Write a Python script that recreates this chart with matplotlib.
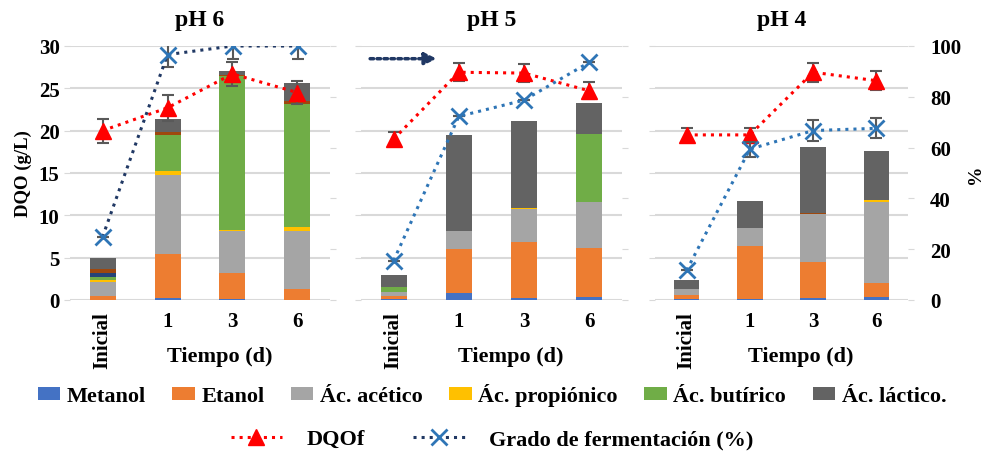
import matplotlib
matplotlib.use('Agg')
import matplotlib.pyplot as plt
import numpy as np

plt.rcParams['font.family'] = ['Liberation Serif', 'DejaVu Serif']
plt.rcParams['font.weight'] = 'bold'

# categories and titles
tiempos = ['Inicial', '1', '3', '6']
titulos = ['pH 6', 'pH 5', 'pH 4']

# stacked DQO components (g/L), one list per panel (pH 6, pH 5, pH 4)
metanol = [[0.05, 0.2, 0.1, 0.05], [0.1, 0.8, 0.2, 0.35], [0.1, 0.15, 0.25, 0.3]]
etanol = [[0.4, 5.2, 3.1, 1.25], [0.4, 5.2, 6.6, 5.8], [0.5, 6.2, 4.2, 1.65]]
acetico = [[1.65, 9.4, 5.0, 6.9], [0.5, 2.1, 4.0, 5.45], [0.7, 2.1, 5.75, 9.65]]
propionico = [[0.3, 0.4, 0.1, 0.4], [0.0, 0.0, 0.1, 0.0], [0.0, 0.0, 0.0, 0.2]]
butirico = [[0.3, 4.3, 18.2, 14.6], [0.5, 0.0, 0.0, 8.0], [0.0, 0.0, 0.0, 0.0]]
otro_azul = [[0.5, 0.0, 0.0, 0.0], [0.0, 0.0, 0.0, 0.0], [0.0, 0.0, 0.0, 0.0]]
otro_cafe = [[0.45, 0.35, 0.1, 0.35], [0.0, 0.0, 0.0, 0.0], [0.0, 0.0, 0.1, 0.0]]
lactico = [[1.3, 1.55, 0.4, 2.05], [1.4, 11.4, 10.2, 3.7], [1.1, 3.2, 7.8, 5.8]]

# DQOf (g/L) with error
dqof = [[20.0, 22.7, 26.7, 24.5], [19.0, 26.9, 26.8, 24.7], [19.5, 19.5, 26.9, 25.9]]
dqof_err = [[1.4, 1.5, 1.4, 1.4], [0.8, 1.05, 1.1, 1.0], [0.8, 0.8, 1.1, 1.1]]

# grado de fermentacion (%) with error
grado = [[24.8, 96.6, 100, 100], [15.5, 72.3, 78.7, 93.6], [11.7, 59.4, 66.7, 67.6]]
grado_err = [[0, 5, 5, 5], [0, 0, 0, 0], [0, 3, 4, 4]]

series = [('Metanol', metanol, '#4472C4'),
          ('Etanol', etanol, '#ED7D31'),
          ('Ác. acético', acetico, '#A5A5A5'),
          ('Ác. propiónico', propionico, '#FFC000'),
          ('Ác. butírico', butirico, '#70AD47'),
          (None, otro_azul, '#264478'),
          (None, otro_cafe, '#9E480E'),
          ('Ác. láctico.', lactico, '#636363')]

linea_grado = ['#203864', '#2E75B6', '#2E75B6']
grid_c = '#D9D9D9'
err_c = '#595959'

fig = plt.figure(figsize=(9.84, 4.52), dpi=100)
posiciones = [(70, 260), (361, 261), (655, 253)]
x = np.arange(len(tiempos))

bar_handles = []
line_handles = []
for p in range(3):
    left, w = posiciones[p]
    ax = fig.add_axes([left / 984, 1 - 301 / 452, w / 984, 254 / 452])
    ax2 = ax.twinx()
    ax.set_zorder(1)
    ax.patch.set_visible(False)
    ax2.set_zorder(2)

    bottom = np.zeros(len(tiempos))
    for nombre, datos, color in series:
        vals = np.array(datos[p])
        b = ax.bar(x, vals, 0.4, bottom=bottom, color=color, zorder=2,
                   label=nombre if nombre else '_nolegend_')
        bottom += vals
        if p == 0 and nombre:
            bar_handles.append(b)

    ax.errorbar(x, dqof[p], yerr=dqof_err[p], fmt='none', ecolor=err_c,
                elinewidth=1.5, capsize=4, capthick=1.5, zorder=4)
    ln1, = ax.plot(x, dqof[p], ':', color='red', lw=2.2, marker='^',
                   markersize=11, zorder=5, label='DQOf')

    ax2.errorbar(x, grado[p], yerr=grado_err[p], fmt='none', ecolor=err_c,
                 elinewidth=1.5, capsize=4, capthick=1.5)
    ln2, = ax2.plot(x, grado[p], ':', color=linea_grado[p], lw=2.2, marker='x',
                    markersize=11, markeredgewidth=2, markeredgecolor='#2E75B6',
                    label='Grado de fermentación (%)')
    if p == 0:
        line_handles = [ln1, ln2]

    ax.set_xlim(-0.5, 3.5)
    ax.set_ylim(0, 30)
    ax2.set_ylim(0, 100)
    ax.set_yticks(range(0, 31, 5))
    ax2.set_yticks(range(0, 101, 20))
    ax.grid(axis='y', color=grid_c, lw=1.5, zorder=0)
    ax.set_axisbelow(True)
    for a in (ax, ax2):
        for s in a.spines.values():
            s.set_visible(False)
    ax.set_xticks(x)
    ax.set_xticklabels(tiempos, fontsize=15)
    ax.get_xticklabels()[0].set_rotation(90)
    ax.tick_params(axis='x', length=0, pad=8)
    ax.tick_params(axis='y', length=4, color=grid_c, labelsize=15)
    ax2.tick_params(axis='y', length=4, color=grid_c, labelsize=15, pad=12)
    if p > 0:
        ax.tick_params(axis='y', labelleft=False)
    if p < 2:
        ax2.tick_params(axis='y', labelright=False)
    ax.set_title(titulos[p], fontsize=17, fontweight='bold', pad=15)
    ax.text(0.575, -0.22, 'Tiempo (d)', transform=ax.transAxes,
            ha='center', va='center', fontsize=16, fontweight='bold')
    if p == 0:
        ax.set_ylabel('DQO (g/L)', fontsize=13.5, fontweight='bold')
        ax.yaxis.set_label_coords(-0.145, 0.5)
    if p == 2:
        ax2.set_ylabel('%', fontsize=14, fontweight='bold')
        ax2.yaxis.set_label_coords(1.232, 0.5)
    if p == 1:
        ax.annotate('', xy=(0.66, 28.5), xytext=(-0.36, 28.5),
                    arrowprops=dict(arrowstyle='-|>,head_length=0.7,head_width=0.35',
                                    color='#203864', lw=2.5,
                                    linestyle=(0, (1, 1)), shrinkA=0, shrinkB=0))

fig.legend(handles=bar_handles, loc='center', bbox_to_anchor=(0.5, 1 - 396 / 452),
           ncol=6, frameon=False, fontsize=16, handlelength=1.0,
           handleheight=0.55, handletextpad=0.3, columnspacing=1.2)
fig.legend(handles=line_handles, loc='center', bbox_to_anchor=(0.5, 1 - 440 / 452),
           ncol=2, frameon=False, fontsize=16, handlelength=2.3,
           handletextpad=1.1, columnspacing=2.2)

fig.savefig('out.png', dpi=100)
